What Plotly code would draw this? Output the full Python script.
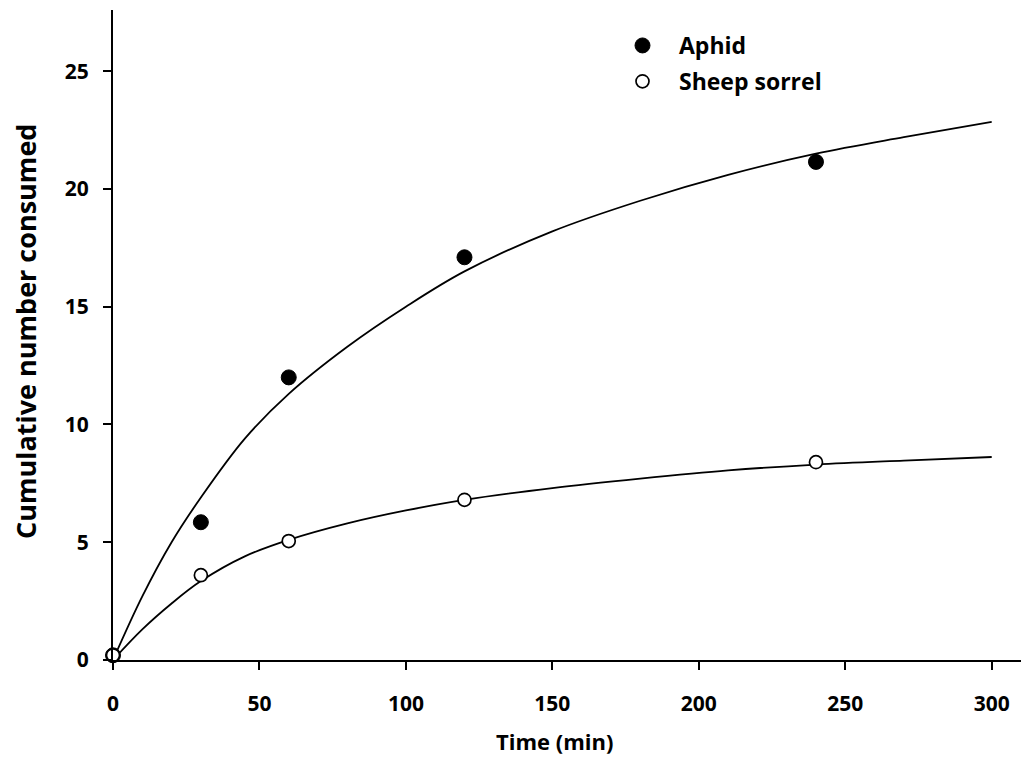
import plotly.graph_objects as go

# Observed data points
time_pts = [0, 30, 60, 120, 240]
aphid_pts = [0.2, 5.85, 12.0, 17.1, 21.15]
sorrel_pts = [0.2, 3.6, 5.05, 6.8, 8.4]

# Fitted curves
curve_t = [0, 10, 20, 30, 45, 60, 80, 100, 120, 150, 180, 210, 240, 270, 300]
aphid_fit = [0, 2.7, 5.0, 6.9, 9.4, 11.3, 13.3, 15.0, 16.5, 18.2, 19.5, 20.6, 21.5, 22.2, 22.85]
sorrel_fit = [0, 1.3, 2.4, 3.35, 4.4, 5.1, 5.8, 6.35, 6.8, 7.3, 7.7, 8.05, 8.3, 8.47, 8.62]

x_ticks = [0, 50, 100, 150, 200, 250, 300]
y_ticks = [0, 5, 10, 15, 20, 25]

FONT = "Open Sans"
PL, PR, PT, PB = 113, 1021, 10, 660  # plot area in pixels
W, H = 1021, 779

fig = go.Figure()
fig.add_trace(go.Scatter(x=curve_t, y=aphid_fit, mode="lines", line=dict(color="black", width=1.8, shape="spline", smoothing=1.0),
                         showlegend=False, hoverinfo="skip", cliponaxis=False))
fig.add_trace(go.Scatter(x=curve_t, y=sorrel_fit, mode="lines", line=dict(color="black", width=1.8, shape="spline", smoothing=1.0),
                         showlegend=False, hoverinfo="skip", cliponaxis=False))
fig.add_trace(go.Scatter(x=time_pts, y=aphid_pts, mode="markers", name="Aphid", legendgroup="a",
                         marker=dict(symbol="circle", size=15, color="black", line=dict(color="black", width=1)),
                         cliponaxis=False))
fig.add_trace(go.Scatter(x=time_pts, y=sorrel_pts, mode="markers", name="Sheep sorrel", legendgroup="b",
                         marker=dict(symbol="circle", size=13, color="white", line=dict(color="black", width=1.7)),
                         cliponaxis=False))

def px_x(p):
    return (p - PL) / (PR - PL)

def px_y(p):
    return (PB - p) / (PB - PT)

fig.update_layout(
    width=W, height=H,
    margin=dict(l=PL, r=W - PR, t=PT, b=H - PB),
    plot_bgcolor="white", paper_bgcolor="white",
    font=dict(family=FONT, size=20, color="black"),
    showlegend=True,
    legend=dict(x=px_x(606), y=px_y(24), xanchor="left", yanchor="top", bgcolor="rgba(0,0,0,0)",
                font=dict(family=FONT, size=23, color="black", weight="bold"),
                tracegroupgap=3, itemwidth=63),
    xaxis=dict(range=[0, 310], tickvals=x_ticks, ticktext=[str(v) for v in x_ticks],
               showline=True, linecolor="black", linewidth=2, ticks="outside", ticklen=8, tickwidth=2,
               tickcolor="black", showgrid=False, zeroline=False,
               tickfont=dict(family=FONT, size=21, weight="bold"), ticklabelstandoff=16),
    yaxis=dict(range=[0, 27.6], tickvals=y_ticks, ticktext=[str(v) for v in y_ticks],
               showline=True, linecolor="black", linewidth=2, ticks="outside", ticklen=8, tickwidth=2,
               tickcolor="black", showgrid=False, zeroline=False,
               tickfont=dict(family=FONT, size=21, weight="bold"), ticklabelstandoff=10),
    annotations=[
        dict(text="<b>Time (min)</b>", x=px_x(554), xref="paper", y=px_y(741), yref="paper",
             xanchor="center", yanchor="middle", showarrow=False, font=dict(family=FONT, size=22)),
        dict(text="<b>Cumulative number consumed</b>", x=px_x(25), xref="paper", y=px_y(332), yref="paper",
             xanchor="center", yanchor="middle", textangle=-90, showarrow=False,
             font=dict(family=FONT, size=27)),
    ],
)

fig.write_html("out.html")
